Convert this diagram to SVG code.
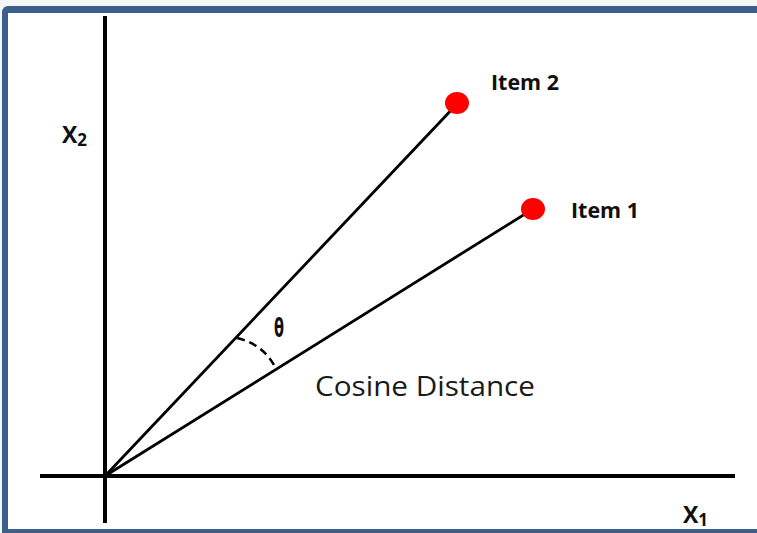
<svg xmlns="http://www.w3.org/2000/svg" width="757" height="533" viewBox="0 0 757 533">
  <style>
    .axis { stroke: #000; stroke-width: 4; fill: none; }
    .vec { stroke: #000; stroke-width: 2.8; fill: none; }
    .dot { fill: #ff0000; }
    .lbl { font-family: "Open Sans", "Liberation Sans", sans-serif; font-weight: bold; fill: #111; }
    .cap { font-family: "Open Sans", "Liberation Sans", sans-serif; fill: #1a1a1a; }
  </style>
  <rect x="0" y="0" width="757" height="533" fill="#f4f5f7"/>
  <rect x="2" y="6" width="770" height="540" rx="6" fill="#3d5e88"/>
  <rect x="8" y="13" width="760" height="516" fill="#ffffff"/>

  <g id="connectors">
    <line class="axis" x1="105" y1="16" x2="105" y2="523"/>
    <line class="axis" x1="40" y1="476" x2="735" y2="476"/>
    <line class="vec" x1="105" y1="476" x2="457" y2="104"/>
    <line class="vec" x1="105" y1="476" x2="533" y2="209"/>
    <path d="M237,338 Q262,344 274,365" stroke="#000" stroke-width="2.5" fill="none" stroke-dasharray="8 5"/>
  </g>

  <g id="item2">
    <ellipse class="dot" cx="457" cy="103" rx="12" ry="11"/>
    <text class="lbl" x="491" y="90" font-size="21" textLength="68" lengthAdjust="spacingAndGlyphs">Item 2</text>
  </g>
  <g id="item1">
    <ellipse class="dot" cx="533" cy="209" rx="12" ry="11"/>
    <text class="lbl" x="571" y="218" font-size="21" textLength="68" lengthAdjust="spacingAndGlyphs">Item 1</text>
  </g>
  <g id="x2-label">
    <text class="lbl" x="62" y="143" font-size="23">X<tspan font-size="17" dy="3">2</tspan></text>
  </g>
  <g id="x1-label">
    <text class="lbl" x="683" y="523" font-size="23">X<tspan font-size="17" dy="3">1</tspan></text>
  </g>
  <g id="theta">
    <text x="274" y="337" font-family="DejaVu Sans, sans-serif" font-weight="bold" font-size="26" fill="#111" textLength="10" lengthAdjust="spacingAndGlyphs">θ</text>
  </g>
  <g id="cosine-distance">
    <text class="cap" x="315" y="396" font-size="28" textLength="220" lengthAdjust="spacingAndGlyphs">Cosine Distance</text>
  </g>
</svg>
